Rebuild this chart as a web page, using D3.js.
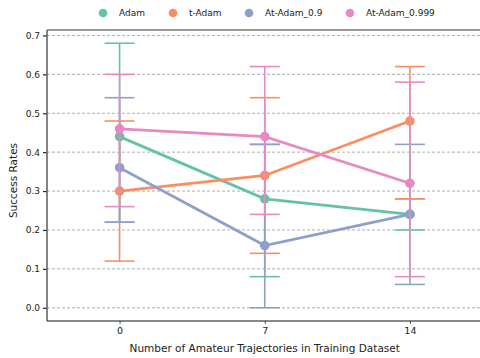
<!DOCTYPE html>
<html>
<head>
<meta charset="utf-8">
<script src="https://cdn.jsdelivr.net/npm/d3@7"></script>
<style>
  html, body { margin: 0; padding: 0; background: #fff; }
  svg { display: block; font-family: "DejaVu Sans", sans-serif; }
</style>
</head>
<body>
<svg id="chart" width="480" height="358"></svg>
<script>
// Categories on the x axis
const categories = ["0", "7", "14"];
const seriesNames = ["Adam", "t-Adam", "At-Adam_0.9", "At-Adam_0.999"];
const seriesColors = ["#66c2a5", "#fc8d62", "#8da0cb", "#e78ac3"];

// Mean success rate per category
const adamMean = [0.44, 0.28, 0.24];
const tAdamMean = [0.30, 0.34, 0.48];
const at09Mean = [0.36, 0.16, 0.24];
const at0999Mean = [0.46, 0.44, 0.32];

// Error bar bounds (lower, upper) per category
const adamLow = [0.22, 0.08, 0.20];
const adamHigh = [0.68, 0.42, 0.28];
const tAdamLow = [0.12, 0.14, 0.28];
const tAdamHigh = [0.48, 0.54, 0.62];
const at09Low = [0.22, 0.00, 0.06];
const at09High = [0.54, 0.42, 0.42];
const at0999Low = [0.26, 0.24, 0.08];
const at0999High = [0.60, 0.62, 0.58];

const yTicks = [0.0, 0.1, 0.2, 0.3, 0.4, 0.5, 0.6, 0.7];

const series = [
  { name: seriesNames[0], color: seriesColors[0], mean: adamMean, low: adamLow, high: adamHigh },
  { name: seriesNames[1], color: seriesColors[1], mean: tAdamMean, low: tAdamLow, high: tAdamHigh },
  { name: seriesNames[2], color: seriesColors[2], mean: at09Mean, low: at09Low, high: at09High },
  { name: seriesNames[3], color: seriesColors[3], mean: at0999Mean, low: at0999Low, high: at0999High }
];

const svg = d3.select("#chart");
const plotLeft = 47, plotRight = 482.5, plotTop = 30, plotBottom = 321;

const x = d3.scalePoint().domain(categories).range([plotLeft, plotRight]).padding(0.5);
const y = d3.scaleLinear().domain([-0.034, 0.714]).range([plotBottom, plotTop]);

// Horizontal dashed grid
svg.append("g")
  .selectAll("line")
  .data(yTicks)
  .join("line")
  .attr("x1", plotLeft).attr("x2", 480)
  .attr("y1", d => y(d)).attr("y2", d => y(d))
  .attr("stroke", "#b0b0b0")
  .attr("stroke-width", 1)
  .attr("stroke-dasharray", "3,2");

// Y axis
const yAxis = svg.append("g")
  .attr("transform", `translate(${plotLeft},0)`)
  .call(d3.axisLeft(y).tickValues(yTicks).tickFormat(d3.format(".1f")).tickSize(4).tickPadding(3));
yAxis.select(".domain").remove();
yAxis.selectAll(".tick line").attr("stroke", "#222").attr("stroke-width", 1.2);
yAxis.selectAll(".tick text").attr("font-size", 9).attr("fill", "#222").attr("font-family", "DejaVu Sans");

// X axis
const xAxis = svg.append("g")
  .attr("transform", `translate(0,${plotBottom})`)
  .call(d3.axisBottom(x).tickSize(3).tickPadding(3));
xAxis.select(".domain").remove();
xAxis.selectAll(".tick line").attr("stroke", "#555");
xAxis.selectAll(".tick text").attr("font-size", 9.5).attr("fill", "#222").attr("font-family", "DejaVu Sans");

// Spines
svg.append("line").attr("x1", plotLeft).attr("x2", 480).attr("y1", plotTop).attr("y2", plotTop)
  .attr("stroke", "#777").attr("stroke-width", 1.6);
svg.append("line").attr("x1", plotLeft).attr("x2", plotLeft).attr("y1", plotTop).attr("y2", plotBottom)
  .attr("stroke", "#666").attr("stroke-width", 1.6);
svg.append("line").attr("x1", plotLeft).attr("x2", 480).attr("y1", plotBottom).attr("y2", plotBottom)
  .attr("stroke", "#111").attr("stroke-width", 1.2);

// Series: error bars, then line with markers
const capHalf = 15;
const line = d3.line().x((d, i) => x(categories[i])).y(d => y(d));
series.forEach(s => {
  const g = svg.append("g");
  categories.forEach((c, i) => {
    const cx = x(c);
    g.append("line").attr("x1", cx).attr("x2", cx)
      .attr("y1", y(s.low[i])).attr("y2", y(s.high[i]))
      .attr("stroke", s.color).attr("stroke-width", 1.6);
    [s.low[i], s.high[i]].forEach(v => {
      g.append("line").attr("x1", cx - capHalf).attr("x2", cx + capHalf)
        .attr("y1", y(v)).attr("y2", y(v))
        .attr("stroke", s.color).attr("stroke-width", 1.6);
    });
  });
  g.append("path").datum(s.mean).attr("d", line)
    .attr("fill", "none").attr("stroke", s.color).attr("stroke-width", 2.8);
  g.selectAll("circle").data(s.mean).join("circle")
    .attr("cx", (d, i) => x(categories[i])).attr("cy", d => y(d))
    .attr("r", 4.8).attr("fill", s.color);
});

// Axis titles
svg.append("text")
  .attr("x", (plotLeft + plotRight) / 2).attr("y", 352)
  .attr("text-anchor", "middle").attr("font-size", 10.5).attr("fill", "#222")
  .text("Number of Amateur Trajectories in Training Dataset");
svg.append("text")
  .attr("transform", `translate(17,${(plotTop + plotBottom) / 2 + 5}) rotate(-90)`)
  .attr("text-anchor", "middle").attr("font-size", 10.5).attr("fill", "#222")
  .text("Success Rates");

// Legend
const legendX = [103, 173, 249, 350];
const legend = svg.append("g");
series.forEach((s, i) => {
  legend.append("circle").attr("cx", legendX[i]).attr("cy", 13).attr("r", 4.3).attr("fill", s.color);
  legend.append("text").attr("x", legendX[i] + 16).attr("y", 13)
    .attr("dominant-baseline", "central").attr("font-size", 9).attr("fill", "#222")
    .text(s.name);
});
</script>
</body>
</html>
